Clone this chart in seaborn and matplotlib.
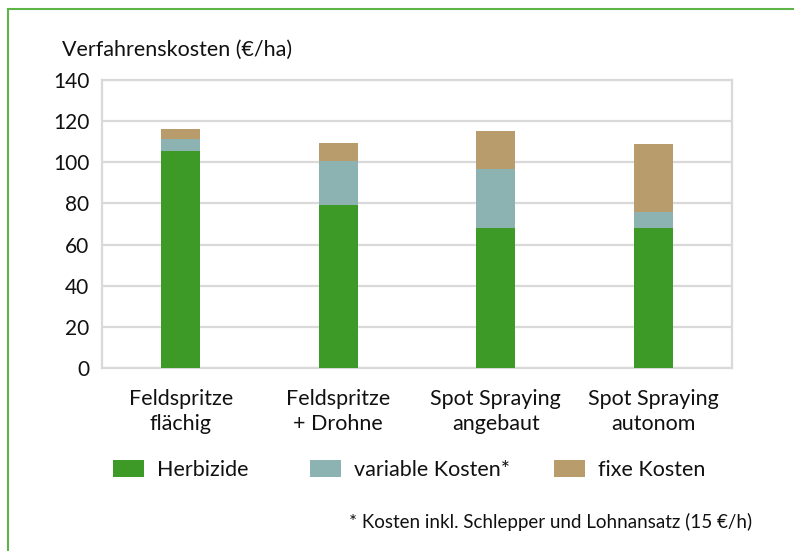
#!/usr/bin/env python3

# Verfahrenskosten je Verfahren, gestapelte Balken

import matplotlib
matplotlib.use("Agg")
import matplotlib.pyplot as plt
import seaborn as sns
import pandas as pd
from matplotlib.patches import Patch
from matplotlib.lines import Line2D

verfahren = ["Feldspritze\nflächig", "Feldspritze\n+ Drohne",
             "Spot Spraying\nangebaut", "Spot Spraying\nautonom"]
herbizide = [105.4, 79.0, 68.0, 68.0]
variable_kosten = [5.8, 21.5, 28.6, 7.7]
fixe_kosten = [5.2, 8.8, 18.4, 33.0]
yticks = [0, 20, 40, 60, 80, 100, 120, 140]

farben = {"Herbizide": "#3e9a27", "variable Kosten*": "#8cb3b2", "fixe Kosten": "#b89c6c"}
grau = "#d9d9d9"
textfarbe = "#111111"


def main():
    sns.set_style("white")
    plt.rcParams["font.family"] = ["Lato", "DejaVu Sans"]

    df = pd.DataFrame({
        "Verfahren": verfahren,
        "Herbizide": herbizide,
        "variable Kosten*": variable_kosten,
        "fixe Kosten": fixe_kosten,
    })
    # kumulierte Werte fuer das Stapeln (von hinten nach vorne zeichnen)
    df["h_var"] = df["Herbizide"] + df["variable Kosten*"]
    df["h_var_fix"] = df["h_var"] + df["fixe Kosten"]

    fig = plt.figure(figsize=(7.94, 5.51), dpi=100)
    ax = fig.add_axes([102 / 794, 1 - 368 / 551, 630 / 794, 288 / 551])

    for col, name in [("h_var_fix", "fixe Kosten"), ("h_var", "variable Kosten*"),
                      ("Herbizide", "Herbizide")]:
        sns.barplot(data=df, x="Verfahren", y=col, color=farben[name], width=0.25,
                    saturation=1, ax=ax, zorder=3, linewidth=0, edgecolor="none")

    ax.set_xlim(-0.5, 3.5)
    ax.set_ylim(0, 140)
    ax.set_yticks(yticks)
    ax.grid(axis="y", color=grau, linewidth=1.6, zorder=0)
    ax.set_axisbelow(True)
    for s in ax.spines.values():
        s.set_color(grau)
        s.set_linewidth(1.6)
        s.set_visible(True)
    ax.tick_params(axis="both", length=0, colors=textfarbe)
    ax.tick_params(axis="y", pad=9, labelsize=15)
    ax.tick_params(axis="x", pad=15, labelsize=15.5)
    for lbl in ax.get_xticklabels():
        lbl.set_linespacing(1.35)
    ax.set_xlabel("")
    ax.set_ylabel("")

    fig.text(62 / 794, 1 - 50 / 551, "Verfahrenskosten (€/ha)", fontsize=15.5,
             va="center", ha="left", color=textfarbe)

    # Legende: jeder Eintrag an seiner eigenen Stelle
    for name, x in zip(farben, [113, 310, 554]):
        fig.legend(handles=[Patch(facecolor=farben[name], edgecolor="none", label=name)],
                   loc="center left", bbox_to_anchor=(x / 794, 1 - 470 / 551),
                   borderaxespad=0, borderpad=0, frameon=False, fontsize=15.5,
                   handlelength=1.45, handleheight=0.85, handletextpad=0.6,
                   labelcolor=textfarbe)

    fig.text(752 / 794, 1 - 522 / 551, "* Kosten inkl. Schlepper und Lohnansatz (15 €/h)",
             fontsize=13.5, ha="right", va="center", color=textfarbe)

    # gruener Rahmen oben und links
    rahmen = "#5db548"
    fig.add_artist(Line2D([8 / 794, 1], [1 - 9 / 551, 1 - 9 / 551], color=rahmen,
                          linewidth=1.5, transform=fig.transFigure))
    fig.add_artist(Line2D([8 / 794, 8 / 794], [0, 1 - 9 / 551], color=rahmen,
                          linewidth=1.5, transform=fig.transFigure))

    fig.savefig("out.png", dpi=100)


if __name__ == "__main__":
    main()
